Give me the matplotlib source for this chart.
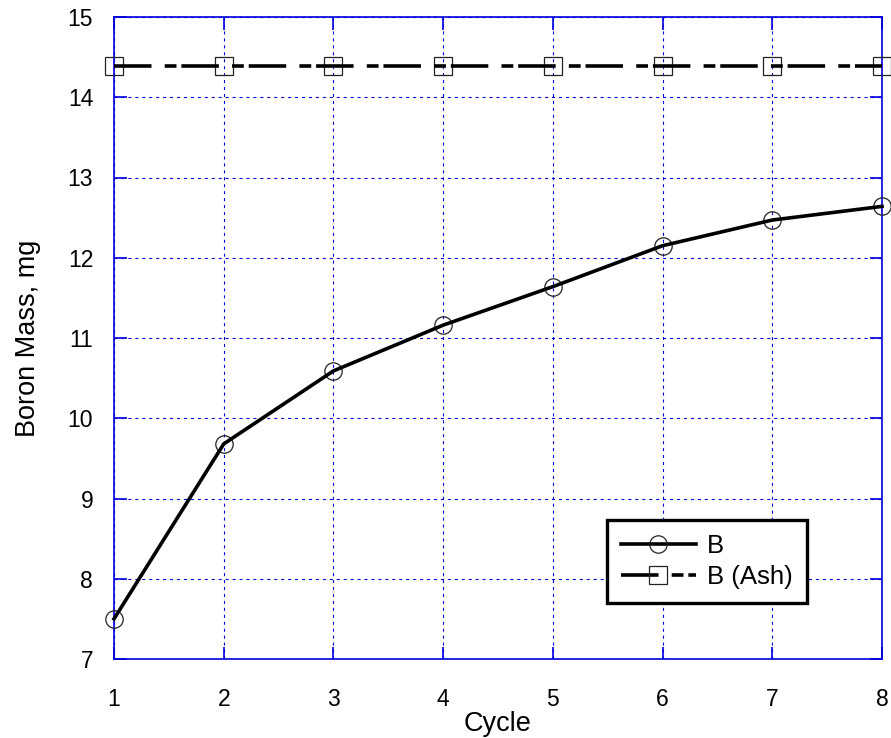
import matplotlib
matplotlib.use("Agg")
import matplotlib.pyplot as plt
from matplotlib.legend_handler import HandlerTuple

plt.rcParams['font.family'] = ['Liberation Sans', 'DejaVu Sans']
plt.rcParams['lines.scale_dashes'] = False

cycle = [1, 2, 3, 4, 5, 6, 7, 8]
boron = [7.50, 9.68, 10.59, 11.16, 11.64, 12.15, 12.47, 12.64]
boron_ash = [14.39] * 8
x_ticks = [1, 2, 3, 4, 5, 6, 7, 8]
y_ticks = [7, 8, 9, 10, 11, 12, 13, 14, 15]

fig = plt.figure(figsize=(8.91, 7.38), dpi=100)
ax = fig.add_axes([114 / 891, 1 - 659 / 738, 768 / 891, 642 / 738])

blue = '#0000dd'

# markers sit underneath the heavy lines
m1, = ax.plot(cycle, boron, linestyle='none', marker='o', markersize=12.5,
              markerfacecolor='none', markeredgecolor='#222222',
              markeredgewidth=0.9, zorder=3, clip_on=False)
l1, = ax.plot(cycle, boron, color='black', linewidth=2.6, zorder=4,
              clip_on=False)
m2, = ax.plot(cycle, boron_ash, linestyle='none', marker='s', markersize=13,
              markerfacecolor='none', markeredgecolor='#222222',
              markeredgewidth=0.9, zorder=3, clip_on=False)
l2, = ax.plot(cycle, boron_ash, color='black', linewidth=2.6, zorder=4,
              dashes=(27, 9.5, 8.5, 3.5), dash_capstyle='butt',
              clip_on=False)

ax.set_xlim(1, 8)
ax.set_ylim(7, 15)
ax.set_xticks(x_ticks)
ax.set_yticks(y_ticks)

ax.grid(True, color=blue, linestyle=(0, (2.2, 2.8)), linewidth=0.8)
for s in ax.spines.values():
    s.set_color(blue)
    s.set_linewidth(1.2)

ax.tick_params(axis='both', which='both', direction='in', length=9,
               width=1.2, color=blue, labelsize=16.5, labelcolor='black',
               top=True, right=True)
ax.tick_params(axis='x', pad=21)
ax.tick_params(axis='y', pad=15)

ax.set_xlabel('Cycle', fontsize=19.5, labelpad=0)
ax.set_ylabel('Boron Mass, mg', fontsize=19.5, labelpad=19)

leg = ax.legend([(l1, m1), (l2, m2)], ['B', 'B (Ash)'],
                handler_map={tuple: HandlerTuple(ndivide=1)},
                loc='upper left', bbox_to_anchor=((607 - 114) / 768, (659 - 520) / 642),
                fontsize=18.5, frameon=True, fancybox=False, handlelength=2.9,
                borderpad=0.55, labelspacing=0.25, handletextpad=0.45,
                borderaxespad=0)
leg.get_frame().set_edgecolor('black')
leg.get_frame().set_linewidth(2.4)
leg.get_frame().set_alpha(1)
leg.set_zorder(10)

fig.savefig('out.png', dpi=100)
